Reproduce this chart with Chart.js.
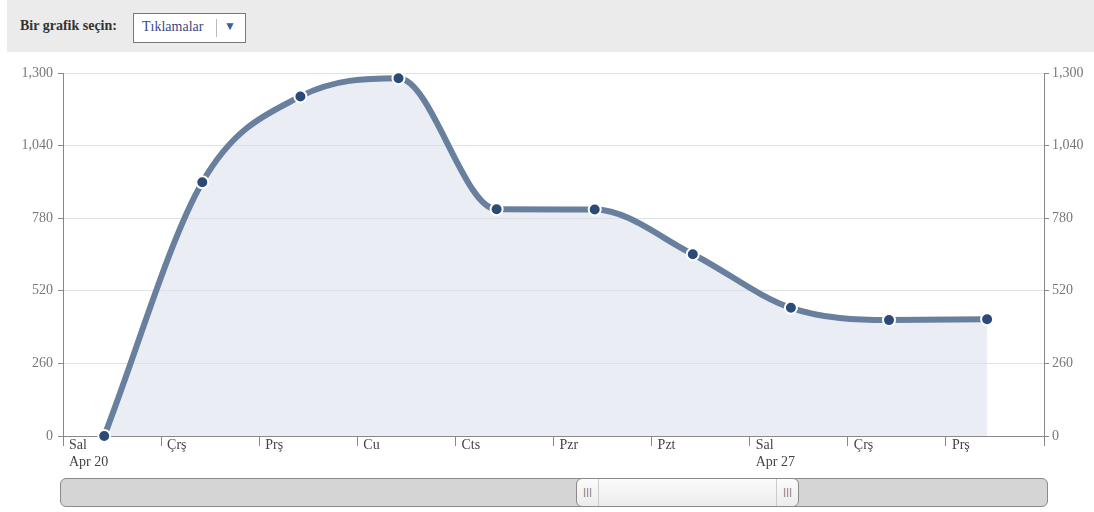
<!DOCTYPE html>
<html>
<head>
<meta charset="utf-8">
<script src="https://cdn.jsdelivr.net/npm/chart.js@4"></script>
<style>
  html, body { margin:0; padding:0; background:#fff; }
  body { width:1094px; height:512px; position:relative; overflow:hidden; font-family:"Liberation Serif", "DejaVu Serif", serif; }
  #hdr { position:absolute; left:7px; top:0; width:1087px; height:52px; background:#ebebeb; }
  #hdrLabel { position:absolute; left:13px; top:18px; font-size:14px; font-weight:bold; color:#333; }
  #sel { position:absolute; left:126px; top:13px; width:111px; height:28px; background:#fff; border:1px solid #777; box-sizing:content-box; }
  #selText { position:absolute; left:8px; top:5px; font-size:14px; color:#3b4a86; }
  #selSep { position:absolute; left:82px; top:5px; width:1px; height:18px; background:#bbb; }
  #selArrow { position:absolute; left:90px; top:5px; font-size:12px; color:#3b5bab; }
  #wrap { position:absolute; left:0; top:52px; width:1094px; height:425px; }
  #slider { position:absolute; left:60px; top:478px; width:986px; height:27px; background:#d5d5d5; border:1px solid #8a8a8a; border-radius:6px; }
  #handle { position:absolute; left:515px; top:-1px; width:221px; height:27px; background:linear-gradient(#fbfbfb,#ececec); border:1px solid #8a8a8a; border-radius:6px; }
  .grip { position:absolute; top:0; width:21px; height:27px; font-family:"DejaVu Sans", sans-serif; font-size:9px; color:#666; text-align:center; line-height:27px; letter-spacing:0px; }
  #gl { left:0; border-right:1px solid #ccc; }
  #gr { right:0; border-left:1px solid #ccc; }
</style>
</head>
<body>
<div id="hdr">
  <div id="hdrLabel">Bir grafik seçin:</div>
  <div id="sel"><span id="selText">Tıklamalar</span><span id="selSep"></span><span id="selArrow">▼</span></div>
</div>
<div id="wrap"><canvas id="c" width="1094" height="425"></canvas></div>
<div id="slider"><div id="handle"><div class="grip" id="gl">|||</div><div class="grip" id="gr">|||</div></div></div>
<script>
// ---- data ----
const dayLabels = ["Sal", "Çrş", "Prş", "Cu", "Cts", "Pzr", "Pzt", "Sal", "Çrş", "Prş"];
const dateLabels = ["Apr 20", "", "", "", "", "", "", "Apr 27", "", ""];
const clicks = [0, 909, 1216, 1281, 812, 811, 651, 459, 415, 418];
const yTicks = [0, 260, 520, 780, 1040, 1300];
// day boundary offset (points sit ~0.42 day after the day tick)
const dayOffset = 0.42;

const points = clicks.map((v, i) => ({ x: i, y: v }));

const fontCfg = { family: "'Liberation Serif', 'DejaVu Serif', serif", size: 14 };

function fixWidth(w) { return function (scale) { scale.width = w; }; }

new Chart(document.getElementById('c'), {
  type: 'line',
  data: {
    datasets: [{
      data: points,
      borderColor: '#687f9e',
      borderWidth: 6,
      backgroundColor: 'rgba(216,223,233,0.55)',
      fill: 'origin',
      cubicInterpolationMode: 'monotone',
      pointRadius: 6,
      pointBorderWidth: 2,
      pointBackgroundColor: '#2b4a78',
      pointBorderColor: '#ffffff',
      yAxisID: 'y',
      clip: false
    }]
  },
  options: {
    responsive: false,
    animation: false,
    layout: { padding: { top: 21, bottom: 0, left: 0, right: 0 } },
    plugins: { legend: { display: false }, tooltip: { enabled: false } },
    scales: {
      x: {
        type: 'linear',
        min: -dayOffset,
        max: dayLabels.length - dayOffset,
        afterBuildTicks: (scale) => {
          scale.ticks = [];
          for (let i = 0; i <= dayLabels.length; i++) scale.ticks.push({ value: i - dayOffset });
        },
        afterFit: (scale) => { scale.height = 41; },
        grid: { drawOnChartArea: false, tickLength: 10, color: '#888', tickColor: '#888' },
        border: { color: '#888', width: 1 },
        ticks: {
          align: 'start',
          labelOffset: 6,
          padding: -9,
          autoSkip: false,
          maxRotation: 0,
          color: '#444',
          font: fontCfg,
          callback: (v, i) => {
            if (i >= dayLabels.length) return '';
            return dateLabels[i] ? [dayLabels[i], dateLabels[i]] : dayLabels[i];
          }
        }
      },
      y: {
        position: 'left',
        min: 0, max: 1300,
        afterBuildTicks: (scale) => { scale.ticks = yTicks.map(v => ({ value: v })); },
        afterFit: fixWidth(63),
        grid: { color: '#e2e2e2', tickLength: 5, tickColor: '#888' },
        border: { color: '#888', width: 1 },
        ticks: { color: '#777', font: fontCfg, padding: 5, callback: (v) => v.toLocaleString('en-US') }
      },
      y2: {
        position: 'right',
        display: true,
        min: 0, max: 1300,
        afterBuildTicks: (scale) => { scale.ticks = yTicks.map(v => ({ value: v })); },
        afterFit: fixWidth(50),
        grid: { drawOnChartArea: false, tickLength: 5, tickColor: '#888' },
        border: { color: '#888', width: 1 },
        ticks: { color: '#777', font: fontCfg, padding: 3, callback: (v) => v.toLocaleString('en-US') }
      }
    }
  }
});
</script>
</body>
</html>
